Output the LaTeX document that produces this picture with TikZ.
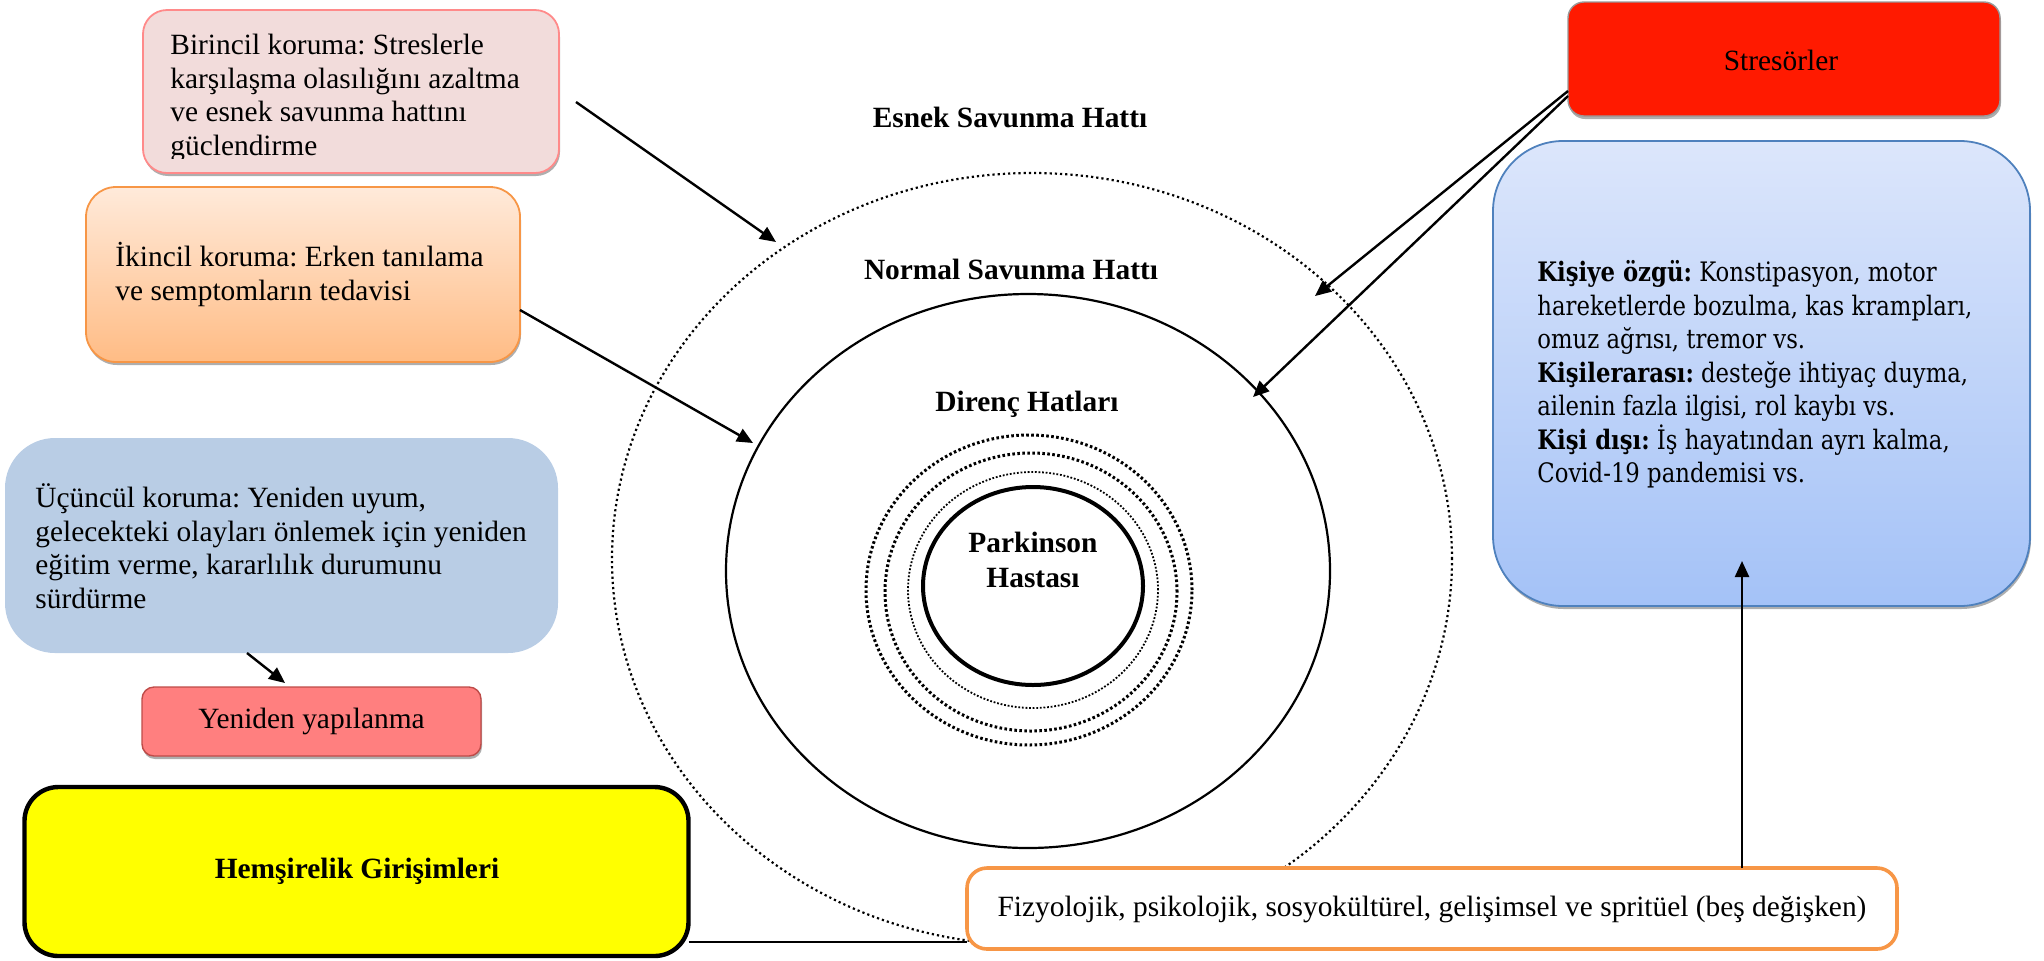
\documentclass[tikz,border=0pt]{standalone}
\usepackage{fontspec}
\setmainfont{Liberation Serif}
\newfontfamily\cent[FakeStretch=0.85]{DejaVu Serif}
\usetikzlibrary{arrows.meta,shadows,calc}
\frenchspacing
\definecolor{b1fill}{HTML}{F2DCDB}
\definecolor{b1draw}{HTML}{FF8A8A}
\definecolor{b2top}{HTML}{FFEADA}
\definecolor{b2bot}{HTML}{FFBC85}
\definecolor{orng}{HTML}{F79646}
\definecolor{b3fill}{HTML}{B9CDE5}
\definecolor{b4fill}{HTML}{FF7F7F}
\definecolor{b4draw}{HTML}{BE4B48}
\definecolor{b7fill}{HTML}{FF1A00}
\definecolor{b8top}{HTML}{DCE6FB}
\definecolor{b8bot}{HTML}{A4C2F7}
\definecolor{b8draw}{HTML}{4F81BD}
\definecolor{ylw}{HTML}{FFFF00}
\begin{document}
\frenchspacing
\begin{tikzpicture}[x=0.5pt,y=-0.5pt,
  box/.style={rectangle, inner sep=0pt, outer sep=0pt},
  shd/.style={drop shadow={shadow xshift=0.5pt, shadow yshift=-1.5pt, fill=black!45, opacity=0.7}},
  txt/.style={font=\fontsize{14.7}{16.75}\selectfont, inner sep=0pt, align=left},
  ctxt/.style={font=\fontsize{14.7}{16.75}\selectfont, inner sep=0pt, align=center},
  lbl/.style={font=\fontsize{14.7}{17.5}\selectfont\bfseries, inner sep=0pt, align=center},
  btxt/.style={font=\cent\fontsize{13.4}{16.75}\selectfont, inner sep=0pt, align=left},
  arr/.style={-{Triangle[length=8pt,width=7pt]}, line width=1.2pt},
  esdot/.style={line width=1.1pt, dash pattern=on 1.1pt off 1.5pt},
  rdota/.style={line width=1.5pt, dash pattern=on 1.3pt off 1.2pt},
  rdotc/.style={line width=0.9pt, dash pattern=on 0.9pt off 0.9pt}]
\useasboundingbox (0,0) rectangle (2044,960);

% --- concentric lines ---
\coordinate (cE) at (1032,559);
\coordinate (cN) at (1028,571);
\coordinate (cA) at (1029,590);
\coordinate (cB) at (1031,592);
\coordinate (cC) at (1033,590);
\coordinate (cP) at (1033,586);
\draw[esdot] (cE) ellipse [x radius=210pt, y radius=193pt];
\draw[line width=1.1pt] (cN) ellipse [x radius=151pt, y radius=138.5pt];
\draw[rdota] (cA) ellipse [x radius=81.5pt, y radius=77.5pt];
\draw[rdota] (cB) ellipse [x radius=73pt, y radius=69.5pt];
\draw[rdotc] (cC) ellipse [x radius=62.5pt, y radius=59pt];
\draw[line width=2pt] (cP) ellipse [x radius=55pt, y radius=49.5pt];

\node[lbl] (esnek) at (1010,117) {Esnek Savunma Hattı};
\node[lbl] (normal) at (1011,269) {Normal Savunma Hattı};
\node[lbl] (direnc) at (1027,404) {Direnç Hatları};
\node[lbl] (park) at (1033,560) {Parkinson\\Hastası};

% --- boxes ---
\node[box, shd, fill=b1fill, draw=b1draw, line width=0.9pt, rounded corners=12pt,
  minimum width=208pt, minimum height=81.5pt] (b1) at (351,91.5) {};
\begin{scope}
\clip (143,10) rectangle (559,158);
\node[txt, anchor=north west] (t1) at (170,28) {\rule{0pt}{0.9em}Birincil koruma: Streslerle\\karşılaşma olasılığını azaltma\\ve esnek savunma hattını\\güclendirme};
\end{scope}

\node[box, shd, top color=b2top, bottom color=b2bot, draw=orng, line width=0.9pt, rounded corners=15pt,
  minimum width=217pt, minimum height=87.5pt] (b2) at (303,274.5) {};
\node[txt, anchor=north west] (t2) at (115,240) {\rule{0pt}{0.9em}İkincil koruma: Erken tanılama\\ve semptomların tedavisi};

\node[box, fill=b3fill, rounded corners=25pt,
  minimum width=276.5pt, minimum height=107.5pt] (b3) at (281.5,545.5) {};
\node[txt, anchor=north west] (t3) at (35,481) {\rule{0pt}{0.9em}Üçüncül koruma: Yeniden uyum,\\gelecekteki olayları önlemek için yeniden\\eğitim verme, kararlılık durumunu\\sürdürme};

\node[box, shd, fill=b4fill, draw=b4draw, line width=0.7pt, rounded corners=6pt,
  minimum width=169.5pt, minimum height=34.5pt] (b4) at (311.5,721.5) {};
\node[ctxt] (t4) at (311.5,721.5) {Yeniden yapılanma};

\node[box, fill=ylw, draw=black, line width=2.2pt, rounded corners=17pt,
  minimum width=332pt, minimum height=84.5pt] (b5) at (356.5,871.5) {};
\node[lbl] (t5) at (357,871) {Hemşirelik Girişimleri};

\node[box, fill=white, draw=orng, line width=1.8pt, rounded corners=10pt,
  minimum width=465pt, minimum height=40.5pt] (b6) at (1432,908.5) {};
\node[ctxt] (t6) at (1432,909) {Fizyolojik, psikolojik, sosyokültürel, gelişimsel ve spritüel (beş değişken)};

\coordinate (hl) at (0,942);
\draw[line width=1.2pt] (hl -| b5.east) -- (hl -| b6.west);

\node[box, shd, fill=b7fill, draw=black!40, line width=0.7pt, rounded corners=8pt,
  minimum width=216pt, minimum height=57pt] (b7) at (1784,59) {};
\node[ctxt] (t7) at (1781,60) {Stresörler};

\node[box, shd, top color=b8top, bottom color=b8bot, draw=b8draw, line width=0.9pt, rounded corners=35pt,
  minimum width=268.5pt, minimum height=232.5pt] (b8) at (1761.5,373.5) {};
\node[btxt, anchor=north west] (t8) at (1537,257) {\rule{0pt}{0.9em}\textbf{Kişiye özgü:} Konstipasyon, motor\\hareketlerde bozulma, kas krampları,\\omuz ağrısı, tremor vs.\\\textbf{Kişilerarası:} desteğe ihtiyaç duyma,\\ailenin fazla ilgisi, rol kaybı vs.\\\textbf{Kişi dışı:} İş hayatından ayrı kalma,\\Covid-19 pandemisi vs.};

% --- connectors ---
\coordinate (a1s) at (576,102);
\coordinate (a1e) at (776,242);
\coordinate (a2e) at (753,443);
\coordinate (a3e) at (1315,296);
\coordinate (a4e) at (1253,397);
\coordinate (a5e) at (285,683);
\coordinate (a6e) at (1742,561);
\draw[arr] (a1s) -- (a1e);
\draw[arr] ($(b2.east)+(0,35.5)$) -- (a2e);
\draw[arr] ($(b7.west)+(0,32)$) -- (a3e);
\draw[arr] ($(b7.west)+(0,37)$) -- (a4e);
\draw[arr] ($(b3.south)+(-34.5,0)$) -- (a5e);
\draw[arr] ($(b6.north)+(310,0)$) -- (a6e);
\end{tikzpicture}
\end{document}
